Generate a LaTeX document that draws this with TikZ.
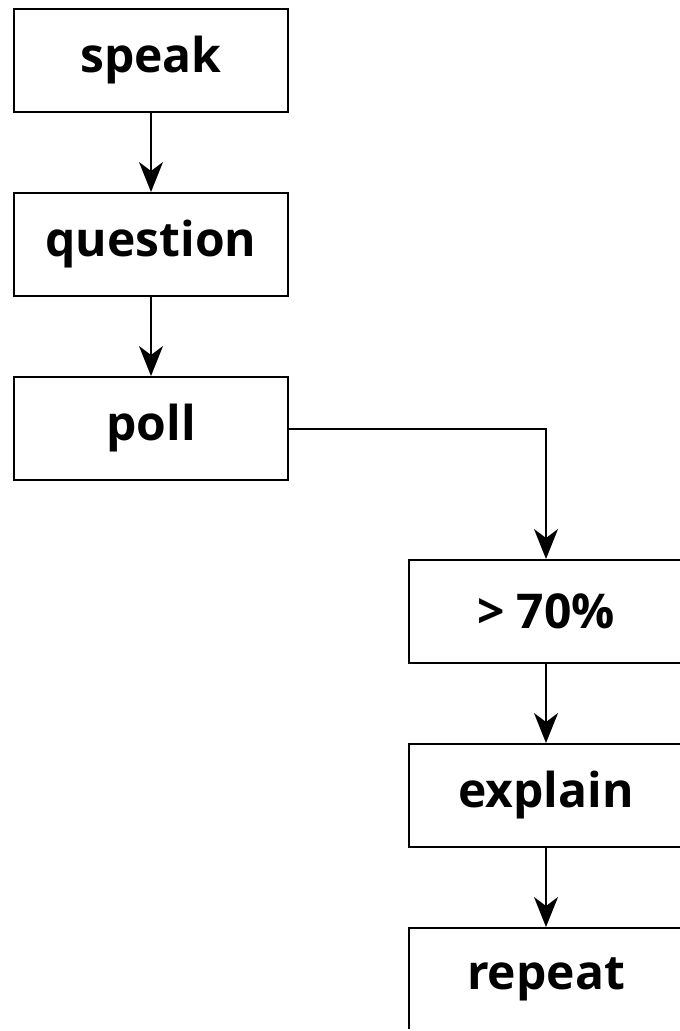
\documentclass[tikz,border=0pt]{standalone}
\usepackage{fontspec}
\setmainfont{Open Sans}
\usetikzlibrary{arrows.meta, positioning}
\tikzset{
    stepbox/.style={
        rectangle,
        draw=black,
        line width=2pt,
        minimum width=274pt,
        minimum height=103pt,
        inner sep=0pt,
        font=\fontsize{48}{54}\selectfont\bfseries,
    },
    flow/.style={
        ->,
        line width=2pt,
    },
}
\begin{document}
\begin{tikzpicture}[x=1pt, y=1pt, node distance=79pt,
    >={Stealth[length=30pt, width=24pt, inset=9pt]}]
      \useasboundingbox (0,0) rectangle (680,-1031);
      \clip (0,0) rectangle (680,-1028.5);

      \node [stepbox] (speak) at (151,-60.5) {speak};
      \node [stepbox] (question) [below=of speak] {question};
      \node [stepbox] (poll) [below=of question] {poll};
      \node [stepbox] (high) [below right=78pt and 119pt of poll] {> 70\%};
      \node [stepbox] (explain) [below=of high] {explain};
      \node [stepbox] (repeat) [below=of explain] {repeat};

      \draw [flow] (speak) -- (question);
      \draw [flow] (question) -- (poll);
      \draw [flow] (poll.east) -| (high.north);
      \draw [flow] (high) -- (explain);
      \draw [flow] (explain) -- (repeat);
    \end{tikzpicture}
\end{document}
